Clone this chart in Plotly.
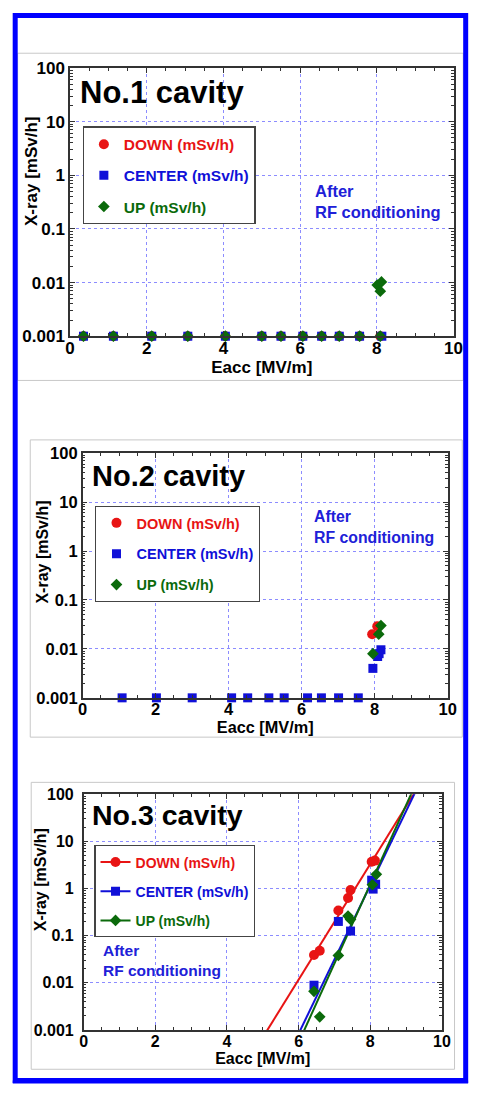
import plotly.graph_objects as go

W, H = 481, 1095
FONT = "Liberation Sans, Arial, sans-serif"
RED = "#e81414"
BLUE = "#1010d8"
GREEN = "#0b6a0b"
TXTBLUE = "#2020d8"

# ---------------- data ----------------
# Panel 1 (No.1 cavity)
p1_down_x = [0.35, 1.13, 2.13, 3.07, 4.05, 5.0, 5.5, 6.07, 6.56, 7.02, 7.55, 8.09]
p1_down_y = [0.001, 0.001, 0.001, 0.001, 0.001, 0.001, 0.001, 0.001, 0.001, 0.001, 0.001, 0.001]
p1_center_x = [0.35, 1.13, 2.13, 3.07, 4.05, 5.0, 5.5, 6.07, 6.56, 7.02, 7.55, 8.13]
p1_center_y = [0.001, 0.001, 0.001, 0.001, 0.001, 0.001, 0.001, 0.001, 0.001, 0.001, 0.001, 0.001]
p1_up_x = [0.35, 1.13, 2.13, 3.07, 4.05, 5.0, 5.5, 6.07, 6.56, 7.02, 7.55, 8.09, 8.01, 8.12, 8.09]
p1_up_y = [0.001, 0.001, 0.001, 0.001, 0.001, 0.001, 0.001, 0.001, 0.001, 0.001, 0.001, 0.001, 0.009, 0.0103, 0.0069]

# Panel 2 (No.2 cavity)
p2_down_x = [7.93, 8.07]
p2_down_y = [0.020, 0.029]
p2_center_x = [1.08, 2.02, 3.0, 4.08, 4.52, 5.1, 5.52, 6.16, 6.54, 7.01, 7.55, 7.95, 8.08, 8.12, 8.17]
p2_center_y = [0.001, 0.001, 0.001, 0.001, 0.001, 0.001, 0.001, 0.001, 0.001, 0.001, 0.001, 0.004, 0.007, 0.008, 0.0096]
p2_up_x = [7.95, 8.11, 8.17]
p2_up_y = [0.008, 0.020, 0.030]

# Panel 3 (No.3 cavity)
p3_down_x = [6.43, 6.59, 7.11, 7.38, 7.45, 8.04, 8.13]
p3_down_y = [0.039, 0.048, 0.34, 0.63, 0.93, 3.7, 3.9]
p3_center_x = [6.43, 7.11, 7.45, 8.04, 8.15, 8.08]
p3_center_y = [0.0089, 0.20, 0.125, 1.5, 1.23, 0.97]
p3_up_x = [6.43, 6.59, 7.11, 7.38, 7.45, 8.06, 8.17]
p3_up_y = [0.0066, 0.0019, 0.038, 0.26, 0.22, 1.2, 2.0]

# exponential fit lines of panel 3: Eacc where the fit reaches 0.001 and 100 mSv/h
fit_y_ends = [0.001, 100]
fit_down_x = [5.13, 9.21]
fit_center_x = [6.05, 9.23]
fit_up_x = [6.16, 9.14]

y_tickvals = [0.001, 0.01, 0.1, 1, 10, 100]
y_ticktext = ["0.001", "0.01", "0.1", "1", "10", "100"]
x_tickvals = [0, 2, 4, 6, 8, 10]
x_ticktext = ["0", "2", "4", "6", "8", "10"]

labels = ["DOWN (mSv/h)", "CENTER (mSv/h)", "UP (mSv/h)"]
colors = [RED, BLUE, GREEN]
symbols = ["circle", "square", "diamond"]
sizes = [10, 9, 9]

# ---------------- helpers ----------------
def px(x):
    return x / W

def py(y):
    return 1 - y / H

def legname(i):
    return '<span style="color:%s">%s</span>' % (colors[i], labels[i])

def extend(xs, ys):
    # same straight log-line, continued one decade past both ends (so its legend markers fall outside the plot)
    dx = (xs[1] - xs[0]) / 5.0
    return [xs[0] - dx, xs[1] + dx], [ys[0] / 10, ys[1] * 10]

fig = go.Figure()

panels = [
    dict(xs=[p1_down_x, p1_center_x, p1_up_x], ys=[p1_down_y, p1_center_y, p1_up_y], legend="legend"),
    dict(xs=[p2_down_x, p2_center_x, p2_up_x], ys=[p2_down_y, p2_center_y, p2_up_y], legend="legend2"),
    dict(xs=[p3_down_x, p3_center_x, p3_up_x], ys=[p3_down_y, p3_center_y, p3_up_y], legend="legend3"),
]
fits = [fit_down_x, fit_center_x, fit_up_x]

for k, p in enumerate(panels):
    xa = "x" if k == 0 else "x%d" % (k + 1)
    ya = "y" if k == 0 else "y%d" % (k + 1)
    if k == 2:
        for i in range(3):
            fx, fy = extend(fits[i], fit_y_ends)
            fig.add_trace(go.Scatter(
                x=fx, y=fy, mode="lines+markers", name=legname(i),
                legendgroup="g%d_%d" % (k, i), legend=p["legend"],
                line=dict(color=colors[i], width=2),
                marker=dict(symbol=symbols[i], size=sizes[i], color=colors[i]),
                xaxis=xa, yaxis=ya, cliponaxis=True, hoverinfo="skip"))
    for i in range(3):
        fig.add_trace(go.Scatter(
            x=p["xs"][i], y=p["ys"][i], mode="markers", name=legname(i),
            legendgroup="g%d_%d" % (k, i), legend=p["legend"],
            showlegend=(k != 2),
            marker=dict(symbol=symbols[i], size=sizes[i], color=colors[i],
                        line=dict(width=0)),
            xaxis=xa, yaxis=ya, cliponaxis=False))

# axis geometry (pixels): left, right, top, bottom
geoms = [(67, 462, 60, 333), (80, 456, 452, 701), (81, 450, 799, 1039)]
tick_sizes = [17, 16.5, 16]
title_sizes = [17, 16.3, 16]
ylabel_standoff = [0, 0, 5]

layout = dict(
    width=W, height=H, margin=dict(l=0, r=0, t=0, b=0),
    paper_bgcolor="white", plot_bgcolor="white",
    font=dict(family=FONT, color="black"),
    showlegend=True,
)

AX = "#333333"
GRID = "#8c8cff"
for k, (l, r, t, b) in enumerate(geoms):
    sx = "xaxis" if k == 0 else "xaxis%d" % (k + 1)
    sy = "yaxis" if k == 0 else "yaxis%d" % (k + 1)
    anchor_x = "y" if k == 0 else "y%d" % (k + 1)
    anchor_y = "x" if k == 0 else "x%d" % (k + 1)
    tf = dict(family=FONT, size=tick_sizes[k], color="black", weight="bold")
    layout[sx] = dict(
        domain=[px(l), px(r)], anchor=anchor_x, range=[0, 10],
        tickmode="array", tickvals=x_tickvals, ticktext=x_ticktext,
        ticks="inside", ticklen=5, tickcolor=AX, tickwidth=1,
        showline=True, linecolor=AX, linewidth=1.5, mirror="allticks",
        showgrid=True, gridcolor=GRID, griddash="dot", gridwidth=1,
        zeroline=False, tickfont=tf, ticklabelstandoff=-4,
        minor=dict(dtick=0.5, tick0=0, ticks="inside", ticklen=3, tickcolor=AX, showgrid=False),
        title=dict(text="Eacc [MV/m]", font=dict(family=FONT, size=title_sizes[k], weight="bold", color="black"), standoff=0),
        fixedrange=True,
    )
    layout[sy] = dict(
        domain=[py(b), py(t)], anchor=anchor_y, type="log", range=[-3, 2],
        tickmode="array", tickvals=y_tickvals, ticktext=y_ticktext,
        ticks="inside", ticklen=5, tickcolor=AX, tickwidth=1,
        showline=True, linecolor=AX, linewidth=1.5, mirror="allticks",
        showgrid=True, gridcolor=GRID, griddash="dot", gridwidth=1,
        zeroline=False, tickfont=tf, ticklabelstandoff=ylabel_standoff[k],
        minor=dict(dtick="D1", ticks="inside", ticklen=3, tickcolor=AX, showgrid=False),
        fixedrange=True,
    )

# left, top (px), font size, gap between entries
legend_pos = [(80, 119.5, 15.5, 8), (93, 505.5, 14.5, 9), (92, 851, 14, 8)]
for k, (lx, ly, fs, gap) in enumerate(legend_pos):
    key = "legend" if k == 0 else "legend%d" % (k + 1)
    layout[key] = dict(
        x=px(lx), y=py(ly), xanchor="left", yanchor="top",
        bgcolor="white", bordercolor="#444444", borderwidth=1.2,
        font=dict(family=FONT, size=fs, weight="bold", color="black"),
        tracegroupgap=gap, itemclick=False, itemdoubleclick=False,
    )

annotations = []
# panel titles
for (txt, x, y, fs) in [("No.1 cavity", 75, 84.5, 31), ("No.2 cavity", 88, 475.5, 29), ("No.3 cavity", 88, 820.7, 28.5)]:
    annotations.append(dict(text=txt, x=px(x), y=py(y), xref="paper", yref="paper",
                            xanchor="left", yanchor="middle", showarrow=False,
                            font=dict(family=FONT, size=fs, weight="bold", color="black")))
# After RF conditioning
for (x, y, fs) in [(317, 195.4, 16.5), (316, 527.4, 15.8), (99, 968.5, 15.5)]:
    annotations.append(dict(text="After<br>RF conditioning", x=px(x), y=py(y), xref="paper", yref="paper",
                            xanchor="left", yanchor="middle", align="left", showarrow=False,
                            font=dict(family=FONT, size=fs, weight="bold", color=TXTBLUE)))
# y-axis titles
for (x, y, fs) in [(26.7, 165, 17), (38.3, 553, 16), (36.7, 886, 16)]:
    annotations.append(dict(text="X-ray [mSv/h]", x=px(x), y=py(y), xref="paper", yref="paper",
                            xanchor="center", yanchor="middle", textangle=-90, showarrow=False,
                            font=dict(family=FONT, size=fs, weight="bold", color="black")))
layout["annotations"] = annotations

shapes = []
# light grey frames of the three pictures
for (x0, x1, y0, y1) in [(13, 472, 45, 378), (26, 471, 438.5, 741), (27, 463, 787, 1079)]:
    shapes.append(dict(type="rect", xref="paper", yref="paper", x0=px(x0), x1=px(x1), y0=py(y1), y1=py(y0),
                       line=dict(color="#c8c8c8", width=1), layer="below"))
# blue outer frame
shapes.append(dict(type="rect", xref="paper", yref="paper", x0=px(10.5), x1=px(474.5), y0=py(1090.5), y1=py(6.5),
                   line=dict(color="#0000ff", width=5)))
shapes.append(dict(type="line", xref="paper", yref="paper", x0=px(8), x1=px(477), y0=py(1092), y1=py(1092),
                   line=dict(color="#0000ff", width=3)))
layout["shapes"] = shapes

fig.update_layout(**layout)

post = (
    "document.documentElement.style.margin='0px';"
    "document.documentElement.style.padding='0px';"
    "document.documentElement.style.overflow='hidden';"
    "document.body.style.margin='0px';"
    "document.body.style.padding='0px';"
    "document.body.style.overflow='hidden';"
    "var gd=document.getElementById('{plot_id}');"
    "gd.style.position='absolute';gd.style.left='0px';gd.style.top='0px';"
)
fig.write_html("out.html", config={"displayModeBar": False}, post_script=post)
